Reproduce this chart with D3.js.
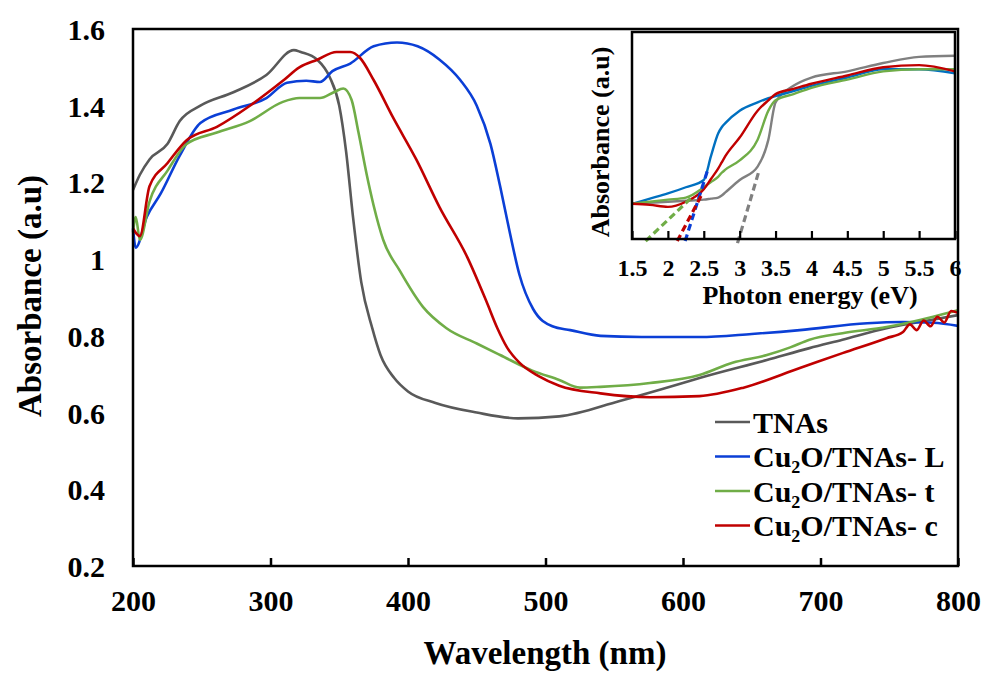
<!DOCTYPE html>
<html>
<head>
<meta charset="utf-8">
<script src="https://cdn.jsdelivr.net/npm/d3@7"></script>
<style>
  body { margin: 0; background: #fff; }
</style>
</head>
<body>
<div id="chart"></div>
<script>
const FONT = "Liberation Serif";

// main plot data (wavelength nm -> absorbance)
const tnasX = [200, 205, 212, 225, 234, 249, 273, 297, 317, 322, 334, 343, 350, 355, 360, 366, 374, 380, 390, 400, 420, 450, 480, 510, 554, 598, 612, 661, 692, 716, 748, 770, 800];
const tnasY = [1.18, 1.22, 1.26, 1.30, 1.36, 1.40, 1.435, 1.48, 1.545, 1.54, 1.52, 1.475, 1.40, 1.28, 1.11, 0.94, 0.82, 0.75, 0.69, 0.655, 0.625, 0.60, 0.585, 0.59, 0.63, 0.675, 0.69, 0.737, 0.768, 0.79, 0.82, 0.835, 0.854];

const lX = [200, 202, 210, 220, 234, 249, 273, 297, 312, 326, 336, 345, 358, 375, 392, 407, 423, 438, 450, 460, 467, 474, 481, 491, 505, 518, 540, 570, 612, 650, 685, 734, 760, 782, 800];
const lY = [1.08, 1.03, 1.11, 1.17, 1.27, 1.355, 1.39, 1.42, 1.46, 1.465, 1.462, 1.49, 1.51, 1.555, 1.565, 1.555, 1.52, 1.467, 1.40, 1.30, 1.19, 1.07, 0.96, 0.87, 0.825, 0.815, 0.80, 0.797, 0.797, 0.805, 0.815, 0.833, 0.836, 0.834, 0.826];

const tX = [200, 202, 205, 212, 225, 239, 261, 285, 309, 321, 336, 346, 353, 359, 364, 370, 375, 382, 394, 411, 428, 450, 467, 490, 510, 525, 540, 576, 612, 636, 661, 678, 692, 716, 748, 782, 800];
const tY = [1.07, 1.11, 1.05, 1.15, 1.23, 1.30, 1.33, 1.36, 1.41, 1.42, 1.42, 1.435, 1.445, 1.415, 1.33, 1.22, 1.14, 1.05, 0.97, 0.875, 0.82, 0.78, 0.75, 0.71, 0.685, 0.665, 0.667, 0.677, 0.698, 0.73, 0.75, 0.77, 0.79, 0.807, 0.823, 0.85, 0.867];

const cX = [200, 205, 212, 225, 239, 261, 285, 309, 321, 334, 348, 358, 365, 375, 389, 406, 423, 443, 457, 465, 472, 481, 495, 510, 540, 576, 612, 644, 685, 716, 748, 760, 765, 770, 775, 780, 785, 790, 795, 800];
const cY = [1.08, 1.06, 1.19, 1.25, 1.31, 1.345, 1.40, 1.465, 1.50, 1.52, 1.54, 1.54, 1.525, 1.467, 1.37, 1.26, 1.135, 1.006, 0.89, 0.82, 0.77, 0.73, 0.695, 0.67, 0.65, 0.64, 0.643, 0.665, 0.716, 0.755, 0.794, 0.81, 0.83, 0.815, 0.84, 0.825, 0.85, 0.835, 0.865, 0.86];

const xTicks = [200, 300, 400, 500, 600, 700, 800];
const yTicks = [0.2, 0.4, 0.6, 0.8, 1.0, 1.2, 1.4, 1.6];

const names = ["TNAs", "Cu\u2082O/TNAs- L", "Cu\u2082O/TNAs- t", "Cu\u2082O/TNAs- c"];
const colors = ["#595959", "#0b3fd6", "#70ad47", "#c00000"];

// inset data (photon energy eV -> absorbance, arbitrary units)
const inX = [1.5, 1.75, 2.0, 2.25, 2.5, 2.6, 2.7, 2.75, 2.8, 3.0, 3.25, 3.4, 3.5, 3.75, 4.0, 4.5, 5.0, 5.5, 6.0];
const inTnas = [0.17, 0.175, 0.18, 0.185, 0.19, 0.195, 0.20, 0.21, 0.225, 0.285, 0.35, 0.48, 0.66, 0.74, 0.78, 0.81, 0.85, 0.88, 0.885];
const inL = [0.17, 0.195, 0.22, 0.25, 0.285, 0.40, 0.51, 0.54, 0.56, 0.62, 0.66, 0.68, 0.69, 0.715, 0.74, 0.78, 0.82, 0.82, 0.80];
const inT = [0.17, 0.18, 0.19, 0.20, 0.25, 0.275, 0.30, 0.32, 0.335, 0.38, 0.48, 0.62, 0.67, 0.70, 0.73, 0.77, 0.81, 0.82, 0.82];
const inC = [0.17, 0.165, 0.155, 0.18, 0.24, 0.29, 0.34, 0.37, 0.40, 0.49, 0.62, 0.67, 0.70, 0.725, 0.75, 0.79, 0.83, 0.84, 0.81];
const inColors = ["#808080", "#0070c0", "#70ad47", "#c00000"];
const inTicks = [1.5, 2, 2.5, 3, 3.5, 4, 4.5, 5, 5.5, 6];

// tangent (band gap) lines: [x0, y0, x1, y1]
const tangents = [
  [2.97, -0.02, 3.27, 0.33],
  [2.24, -0.01, 2.56, 0.34],
  [1.69, -0.01, 2.36, 0.21],
  [2.13, -0.01, 2.48, 0.22]
];
const tangentColors = ["#808080", "#0b3fd6", "#70ad47", "#c00000"];

const W = 981, H = 673;
const svg = d3.select("#chart").append("svg").attr("width", W).attr("height", H);

const x = d3.scaleLinear().domain([200, 800]).range([133, 958]);
const y = d3.scaleLinear().domain([0.2, 1.6]).range([566, 29]);

const series = [[tnasX, tnasY], [lX, lY], [tX, tY], [cX, cY]];
const line = d3.line().x(d => x(d[0])).y(d => y(d[1])).curve(d3.curveMonotoneX);

series.forEach((s, i) => {
  const pts = s[0].map((v, j) => [v, s[1][j]]);
  svg.append("path").datum(pts)
    .attr("d", line)
    .attr("fill", "none")
    .attr("stroke", colors[i])
    .attr("stroke-width", 2.6);
});

// frame
svg.append("rect")
  .attr("x", x(200)).attr("y", y(1.6))
  .attr("width", x(800) - x(200)).attr("height", y(0.2) - y(1.6))
  .attr("fill", "none").attr("stroke", "#000").attr("stroke-width", 2.5);

function styleText(sel, size) {
  sel.attr("font-family", FONT).attr("font-weight", "bold").attr("font-size", size).attr("fill", "#000");
}

// x axis, ticks pointing inward
const xAxis = svg.append("g").attr("transform", `translate(0,${y(0.2)})`)
  .call(d3.axisBottom(x).tickValues(xTicks).tickSizeInner(-8).tickSizeOuter(0).tickPadding(24).tickFormat(d3.format("d")));
xAxis.attr("font-family", FONT).attr("font-size", null);
xAxis.select(".domain").remove();
xAxis.selectAll("line").attr("stroke", "#000").attr("stroke-width", 2.5);
styleText(xAxis.selectAll("text"), 30);

const yAxis = svg.append("g").attr("transform", `translate(${x(200)},0)`)
  .call(d3.axisLeft(y).tickValues(yTicks).tickSize(0).tickPadding(28).tickFormat(d => d === 1 ? "1" : d3.format(".1f")(d)));
yAxis.attr("font-family", FONT).attr("font-size", null);
yAxis.select(".domain").remove();
styleText(yAxis.selectAll("text").attr("dy", "0.35em"), 30);

styleText(svg.append("text").attr("x", 545).attr("y", 664).attr("text-anchor", "middle")
  .text("Wavelength (nm)"), 33);
styleText(svg.append("text").attr("transform", "translate(41,296) rotate(-90)").attr("text-anchor", "middle")
  .text("Absorbance (a.u)"), 33);

// legend
const leg = svg.append("g");
names.forEach((n, i) => {
  const ly = 422 + i * 34.5;
  leg.append("line").attr("x1", 715).attr("x2", 750).attr("y1", ly).attr("y2", ly)
    .attr("stroke", colors[i]).attr("stroke-width", 2.6);
  styleText(leg.append("text").attr("x", 753).attr("y", ly).attr("dy", "0.35em").text(n), 30);
});

// inset
const ix = d3.scaleLinear().domain([1.5, 6]).range([632, 955]);
const iy = d3.scaleLinear().domain([0, 1]).range([239, 32]);

svg.append("rect").attr("x", 632).attr("y", 32).attr("width", 323).attr("height", 207).attr("fill", "#fff");

const inSeries = [inTnas, inL, inT, inC];
const iline = d3.line().x(d => ix(d[0])).y(d => iy(d[1])).curve(d3.curveMonotoneX);
inSeries.forEach((s, i) => {
  svg.append("path").datum(inX.map((v, j) => [v, s[j]]))
    .attr("d", iline).attr("fill", "none")
    .attr("stroke", inColors[i]).attr("stroke-width", 2.4);
});

tangents.forEach((t, i) => {
  svg.append("line")
    .attr("x1", ix(t[0])).attr("y1", iy(t[1])).attr("x2", ix(t[2])).attr("y2", iy(t[3]))
    .attr("stroke", tangentColors[i]).attr("stroke-width", 3.2).attr("stroke-dasharray", "7,4");
});

svg.append("rect").attr("x", 632).attr("y", 32).attr("width", 323).attr("height", 207)
  .attr("fill", "none").attr("stroke", "#000").attr("stroke-width", 2.5);

const iAxis = svg.append("g").attr("transform", `translate(0,${iy(0)})`)
  .call(d3.axisBottom(ix).tickValues(inTicks).tickSizeInner(-8).tickSizeOuter(0).tickPadding(20).tickFormat(d => String(d)));
iAxis.attr("font-family", FONT).attr("font-size", null);
iAxis.select(".domain").remove();
iAxis.selectAll("line").attr("stroke", "#000").attr("stroke-width", 2.2);
styleText(iAxis.selectAll("text"), 24);

styleText(svg.append("text").attr("x", 810).attr("y", 304).attr("text-anchor", "middle")
  .text("Photon energy (eV)"), 26);
styleText(svg.append("text").attr("transform", "translate(609,142) rotate(-90)").attr("text-anchor", "middle")
  .text("Absorbance (a.u)"), 26);
</script>
</body>
</html>
